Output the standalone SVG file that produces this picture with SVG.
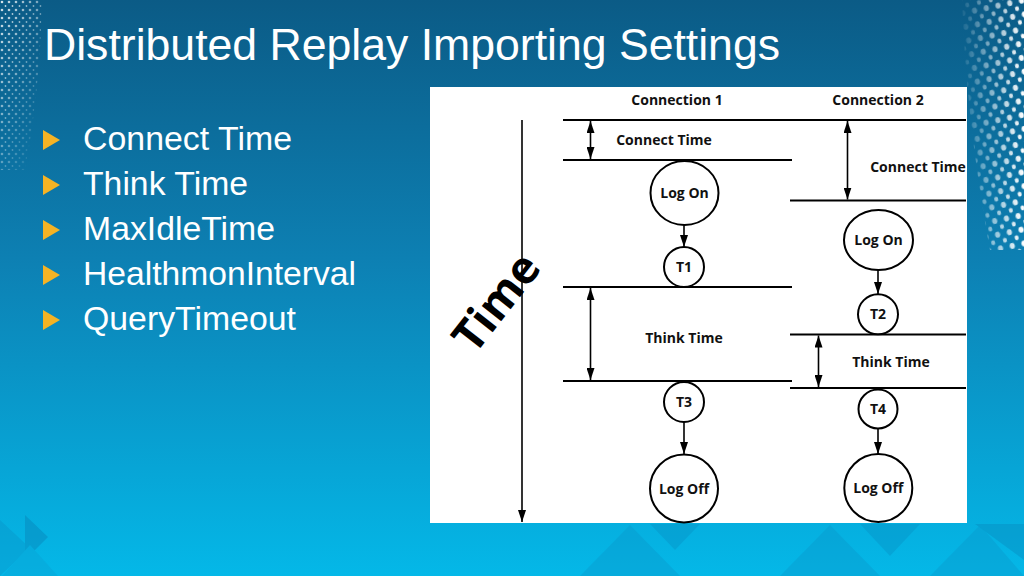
<svg xmlns="http://www.w3.org/2000/svg" width="1024" height="576" viewBox="0 0 1024 576">
  <defs>
    <linearGradient id="bg" x1="0" y1="0" x2="0" y2="1">
      <stop offset="0" stop-color="#0b5b86"/>
      <stop offset="0.45" stop-color="#0d80b3"/>
      <stop offset="1" stop-color="#04b8e8"/>
    </linearGradient>
    <pattern id="dotsR" width="12" height="14" patternUnits="userSpaceOnUse" patternTransform="rotate(-12)">
      <ellipse cx="3" cy="3" rx="2.6" ry="3" fill="#ffffff"/>
      <ellipse cx="9" cy="10" rx="2" ry="2.4" fill="#ffffff"/>
    </pattern>
    <pattern id="dotsL" width="7" height="8" patternUnits="userSpaceOnUse">
      <circle cx="2" cy="2" r="1.3" fill="#ffffff"/>
      <circle cx="5.5" cy="6" r="0.9" fill="#ffffff"/>
    </pattern>
    <linearGradient id="fadeR" x1="958" y1="0" x2="1024" y2="0" gradientUnits="userSpaceOnUse">
      <stop offset="0" stop-color="#fff" stop-opacity="0"/>
      <stop offset="0.55" stop-color="#fff" stop-opacity="0.55"/>
      <stop offset="1" stop-color="#fff" stop-opacity="1"/>
    </linearGradient>
    <mask id="maskR">
      <path d="M962,0 H1024 V250 L990,250 Q966,120 962,0 Z" fill="url(#fadeR)"/>
    </mask>
    <linearGradient id="fadeL" x1="0" y1="0" x2="0.8" y2="1">
      <stop offset="0" stop-color="#fff" stop-opacity="0.85"/>
      <stop offset="1" stop-color="#fff" stop-opacity="0"/>
    </linearGradient>
    <mask id="maskL">
      <path d="M0,0 H42 Q40,90 25,170 H0 Z" fill="url(#fadeL)"/>
    </mask>
    <marker id="ah" viewBox="0 0 12 8" refX="12" refY="4" markerWidth="12" markerHeight="8" markerUnits="userSpaceOnUse" orient="auto-start-reverse">
      <path d="M0,0 L12,4 L0,8 Z" fill="#000"/>
    </marker>
    <style>
      .title { font-family: "Liberation Sans", Arial, sans-serif; font-size: 45px; fill: #ffffff; }
      .bullet { font-family: "Liberation Sans", Arial, sans-serif; font-size: 33px; fill: #ffffff; }
      .tri { fill: #f5b324; }
      .lbl { font-family: "Open Sans", "Liberation Sans", sans-serif; font-size: 14px; font-weight: 700; fill: #111; }
      .node { fill: #ffffff; stroke: #000; stroke-width: 2; }
      .hl { stroke: #000; stroke-width: 2; fill: none; }
      .ar { stroke: #000; stroke-width: 1.6; fill: none; marker-end: url(#ah); }
      .dar { stroke: #000; stroke-width: 1.6; fill: none; marker-end: url(#ah); marker-start: url(#ah); }
      .big { font-family: "Open Sans", "Liberation Sans", sans-serif; font-size: 45px; font-weight: 700; fill: #000; }
    </style>
  </defs>

  <!-- background -->
  <rect x="0" y="0" width="1024" height="576" fill="url(#bg)"/>
  <rect x="940" y="0" width="84" height="260" fill="url(#dotsR)" mask="url(#maskR)"/>
  <rect x="0" y="0" width="45" height="175" fill="url(#dotsL)" mask="url(#maskL)"/>
  <g id="deco" opacity="0.35">
    <polygon points="0,520 30,548 0,576" fill="#0a8fc4"/>
    <polygon points="25,515 48,537 25,560" fill="#0878ad"/>
    <polygon points="30,545 58,576 2,576" fill="#0a9fd2"/>
    <polygon points="580,576 630,525 680,576" fill="#0a94c8"/>
    <polygon points="650,524 700,524 675,550" fill="#078cc0"/>
    <polygon points="780,576 830,525 880,576" fill="#0a94c8"/>
    <polygon points="860,524 920,524 890,556" fill="#078cc0"/>
    <polygon points="930,576 980,525 1024,576" fill="#0a94c8"/>
    <polygon points="975,524 1024,524 1024,560" fill="#0883b8"/>
  </g>

  <!-- title -->
  <text class="title" x="44" y="60" textLength="736" lengthAdjust="spacingAndGlyphs">Distributed Replay Importing Settings</text>

  <!-- bullets -->
  <g id="bullets">
    <polygon class="tri" points="43,130 60,140 43,150"/>
    <text class="bullet" x="83" y="150" textLength="209" lengthAdjust="spacingAndGlyphs">Connect Time</text>
    <polygon class="tri" points="43,175 60,185 43,195"/>
    <text class="bullet" x="83" y="195" textLength="165" lengthAdjust="spacingAndGlyphs">Think Time</text>
    <polygon class="tri" points="43,220 60,230 43,240"/>
    <text class="bullet" x="83" y="240" textLength="192" lengthAdjust="spacingAndGlyphs">MaxIdleTime</text>
    <polygon class="tri" points="43,265 60,275 43,285"/>
    <text class="bullet" x="83" y="285" textLength="273" lengthAdjust="spacingAndGlyphs">HealthmonInterval</text>
    <polygon class="tri" points="43,310 60,320 43,330"/>
    <text class="bullet" x="83" y="330" textLength="213" lengthAdjust="spacingAndGlyphs">QueryTimeout</text>
  </g>

  <!-- diagram panel -->
  <rect id="panel" x="430" y="87" width="537" height="436" fill="#ffffff"/>

  <!-- labels -->
  <g id="labels">
    <text class="lbl" x="677" y="105" text-anchor="middle">Connection 1</text>
    <text class="lbl" x="878" y="105" text-anchor="middle">Connection 2</text>
    <text class="lbl" x="664" y="145" text-anchor="middle">Connect Time</text>
    <text class="lbl" x="918" y="172" text-anchor="middle">Connect Time</text>
    <text class="lbl" x="684" y="343" text-anchor="middle">Think Time</text>
    <text class="lbl" x="891" y="367" text-anchor="middle">Think Time</text>
    <text class="big" transform="translate(496,302) rotate(-52)" x="0" y="16" text-anchor="middle">Time</text>
  </g>

  <!-- connectors -->
  <g id="connectors">
    <path class="ar" d="M522,120 V522"/>
    <path class="hl" d="M563,120 H966"/>
    <path class="hl" d="M563,160 H792"/>
    <path class="hl" d="M790,200.5 H966"/>
    <path class="hl" d="M563,287 H792"/>
    <path class="hl" d="M790,334.5 H966"/>
    <path class="hl" d="M563,381 H792"/>
    <path class="hl" d="M790,388 H966"/>
    <path class="dar" d="M590.5,121 V159"/>
    <path class="dar" d="M847.5,121 V199.5"/>
    <path class="dar" d="M590.5,288 V380"/>
    <path class="dar" d="M818.5,335.5 V387"/>
    <path class="ar" d="M684,225 V247"/>
    <path class="ar" d="M878,270 V294"/>
    <path class="ar" d="M684,422 V454"/>
    <path class="ar" d="M878,428.5 V454"/>
  </g>

  <!-- nodes -->
  <g id="logon1">
    <ellipse class="node" cx="684.5" cy="193" rx="34" ry="32"/>
    <text class="lbl" x="684.5" y="198" text-anchor="middle">Log On</text>
  </g>
  <g id="t1">
    <circle class="node" cx="684" cy="267" r="20"/>
    <text class="lbl" x="684" y="272" text-anchor="middle">T1</text>
  </g>
  <g id="t3">
    <circle class="node" cx="684" cy="402" r="20"/>
    <text class="lbl" x="684" y="407" text-anchor="middle">T3</text>
  </g>
  <g id="logoff1">
    <circle class="node" cx="684" cy="488.5" r="34"/>
    <text class="lbl" x="684" y="493.5" text-anchor="middle">Log Off</text>
  </g>
  <g id="logon2">
    <ellipse class="node" cx="878.5" cy="240" rx="34.5" ry="30"/>
    <text class="lbl" x="878.5" y="245" text-anchor="middle">Log On</text>
  </g>
  <g id="t2">
    <circle class="node" cx="878" cy="314.3" r="20"/>
    <text class="lbl" x="878" y="319.3" text-anchor="middle">T2</text>
  </g>
  <g id="t4">
    <circle class="node" cx="878" cy="409" r="19.5"/>
    <text class="lbl" x="878" y="414" text-anchor="middle">T4</text>
  </g>
  <g id="logoff2">
    <circle class="node" cx="878.3" cy="488" r="34"/>
    <text class="lbl" x="878.3" y="493" text-anchor="middle">Log Off</text>
  </g>
</svg>
